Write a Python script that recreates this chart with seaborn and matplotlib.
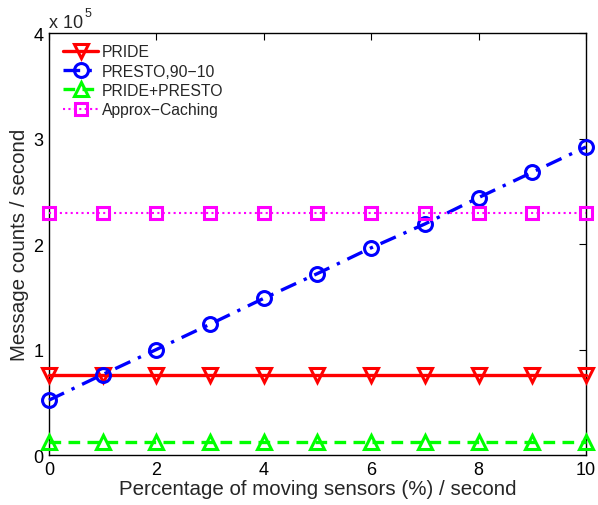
import matplotlib
matplotlib.use("Agg")
import matplotlib.pyplot as plt
import seaborn as sns
import numpy as np

# Moving-sensor percentage per second
pct_moving = [0, 1, 2, 3, 4, 5, 6, 7, 8, 9, 10]

# Message counts per second for each scheme
pride = [76000] * 11
presto = [52000, 76300, 100000, 124000, 148500, 172000, 196400, 219000, 244000, 268000, 292000]
pride_presto = [12000] * 11
approx_caching = [229500] * 11

series_names = ["PRIDE", "PRESTO,90\u221210", "PRIDE+PRESTO", "Approx\u2212Caching"]

sns.set_style("white")
plt.rcParams["font.family"] = ["Liberation Sans", "DejaVu Sans"]

fig = plt.figure(figsize=(5.98, 5.06), dpi=100)
ax = fig.add_axes([0.0819, 0.0988, 0.898, 0.834])

scale = 1e5
styles = [
    dict(y=pride, color="#ff0000", marker="v", linestyle="-", linewidth=2.4, ms=10),
    dict(y=presto, color="#0000ff", marker="o", linestyle=(0, (5, 2.5, 1, 2.5)), linewidth=2.4, ms=10),
    dict(y=pride_presto, color="#00ff00", marker="^", linestyle=(0, (3.5, 2.2)), linewidth=2.4, ms=10),
    dict(y=approx_caching, color="#ff00ff", marker="s", linestyle=(0, (1, 1.6)), linewidth=1.5, ms=8),
]

for name, st in zip(series_names, styles):
    sns.lineplot(
        x=pct_moving, y=np.array(st["y"]) / scale, ax=ax,
        color=st["color"], marker=st["marker"], linestyle=st["linestyle"],
        linewidth=st["linewidth"], markersize=st["ms"],
        markerfacecolor="none", markeredgecolor=st["color"], markeredgewidth=2.2,
        label=name, clip_on=False, zorder=3,
    )

ax.set_xlim(0, 10)
ax.set_ylim(0, 4)
ax.set_xticks([0, 2, 4, 6, 8, 10])
ax.set_yticks([0, 1, 2, 3, 4])
ax.tick_params(direction="in", length=5, width=0.8, top=True, right=True,
               labelsize=13, pad=4, colors="black")
for sp in ax.spines.values():
    sp.set_color("black")
    sp.set_linewidth(1.0)

ax.set_xlabel("Percentage of moving sensors (%) / second", fontsize=14.8, labelpad=1)
ax.set_ylabel("Message counts / second", fontsize=14.8, labelpad=3)

# Exponent marker for the y axis (values are shown in units of 10^5)
ax.text(0.0, 1.014, "x 10", transform=ax.transAxes, fontsize=13, ha="left", va="baseline")
ax.text(0.067, 1.040, "5", transform=ax.transAxes, fontsize=9, ha="left", va="baseline")

leg = ax.legend(loc="upper left", bbox_to_anchor=(0.01, 0.994), frameon=False,
                fontsize=11.3, handlelength=2.25, handletextpad=0.25,
                labelspacing=0.28, borderaxespad=0.15)

fig.savefig("out.png", dpi=100)
